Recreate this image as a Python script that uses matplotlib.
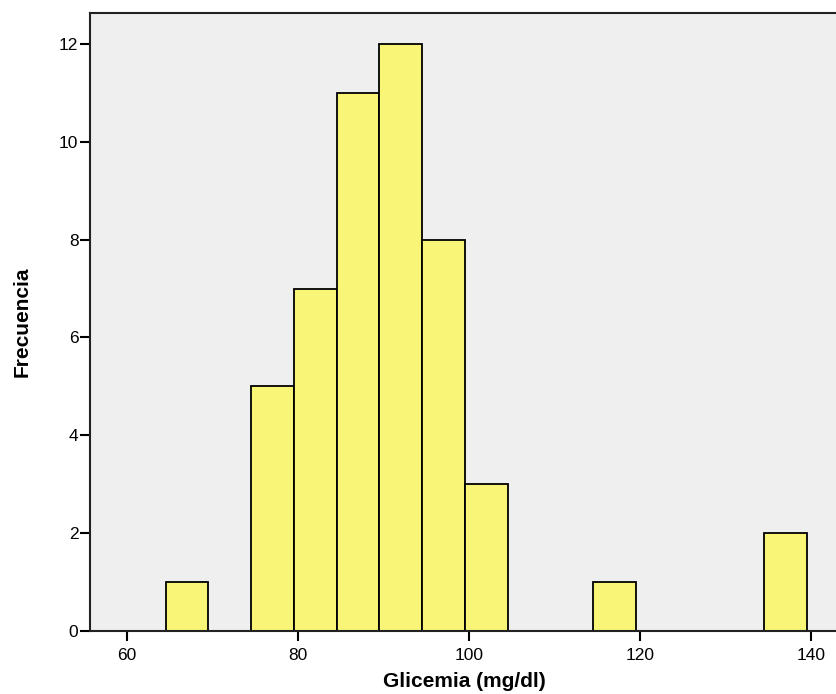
import matplotlib.pyplot as plt

bin_starts = [64.5, 74.5, 79.5, 84.5, 89.5, 94.5, 99.5, 114.5, 134.5]
counts = [1, 5, 7, 11, 12, 8, 3, 1, 2]
bin_width = 5
xticks = [60, 80, 100, 120, 140]
yticks = [0, 2, 4, 6, 8, 10, 12]

plt.rcParams['font.family'] = ['Liberation Sans', 'DejaVu Sans']

fig = plt.figure(figsize=(8.37, 6.94), dpi=100)
ax = fig.add_axes([0.107, 0.091, 0.895, 0.890])
ax.set_facecolor('#efefef')

ax.bar(bin_starts, counts, width=bin_width, align='edge',
       color='#f9f677', edgecolor='black', linewidth=1.3)

ax.set_xlim(55.6, 143.2)
ax.set_ylim(0, 12.63)
ax.set_xticks(xticks)
ax.set_yticks(yticks)
ax.tick_params(axis='both', labelsize=12.5, width=1.5, length=7, direction='out', colors='black')
ax.tick_params(axis='x', pad=5)
ax.tick_params(axis='y', pad=1)

for side in ['left', 'top', 'bottom']:
    ax.spines[side].set_linewidth(1.5)
    ax.spines[side].set_color('#222222')
ax.spines['right'].set_visible(False)

ax.set_xlabel('Glicemia (mg/dl)', fontsize=15, fontweight='bold', labelpad=7)
ax.set_ylabel('Frecuencia', fontsize=15, fontweight='bold', labelpad=20,
              family=['Liberation Sans Narrow', 'Liberation Sans'])

fig.savefig('out.png', dpi=100)
